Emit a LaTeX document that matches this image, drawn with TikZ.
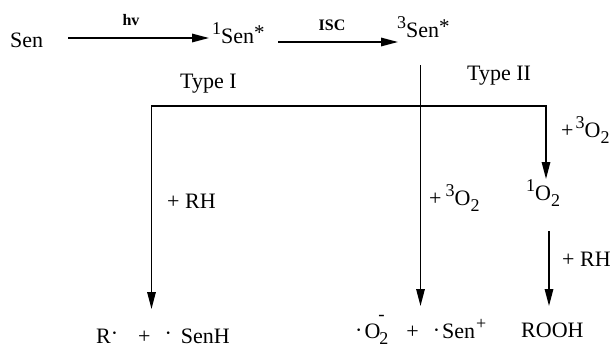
\documentclass[tikz,border=0pt]{standalone}
\usepackage{fontspec}
\setmainfont{Liberation Serif}
\usetikzlibrary{arrows.meta}
\newcommand{\upx}[1]{{\fontsize{18}{18}\selectfont\raisebox{9pt}{#1}}}
\newcommand{\dnx}[1]{{\fontsize{18}{18}\selectfont\raisebox{-6pt}{#1}}}
\newcommand{\astx}{{\fontsize{21}{21}\selectfont\raisebox{4pt}{*}}}
\newcommand{\rdot}[1][3pt]{\raisebox{#1}{·}}
\newcommand{\minx}{{\fontsize{19}{19}\selectfont\raisebox{18pt}{-}}}
\begin{document}
\begin{tikzpicture}[x=1pt,y=-1pt,
  txt/.style={inner sep=0pt, font=\fontsize{22}{24}\selectfont, anchor=base west},
  lbl/.style={inner sep=0pt, font=\fontsize{16}{18}\selectfont\bfseries, anchor=base},
  ln/.style={line width=1.5pt, line join=miter},
  arr/.style={ln, -{Triangle[length=17pt,width=8.5pt]}}]
\useasboundingbox (0,0) rectangle (615,348);
% text nodes
\node[txt] (sen) at (10,47) {Sen};
\node[txt] (s1) at (212,43) {\upx{1}Sen\astx};
\node[txt] (s3) at (397,37) {\upx{3}Sen\astx};
\node[lbl] (hv) at (131,25) {hv};
\node[lbl] (isc) at (332,30) {ISC};
\node[txt] (typeI) at (180,88) {Type I};
\node[txt] (typeII) at (467,80) {Type II};
\node[txt] (rh1) at (167,208) {+ RH};
\node[txt] (ox1) at (561,137) {+\kern2pt\upx{3}O\dnx{2}};
\node[txt] (o21) at (526,200) {\upx{1}O\dnx{2}};
\node[txt] (ox2) at (429,205) {+\kern4pt\upx{3}O\dnx{2}};
\node[txt] (rh2) at (562,266) {+ RH};
\node[txt] (p1) at (96,343) {R\rdot\kern20pt+\kern14pt\rdot\kern9pt SenH};
\node[txt] (p2) at (355,338) {\rdot[1pt]\kern2pt O\kern-2pt\rlap{\minx}\kern1pt\dnx{2}\kern18pt+\kern14pt\rdot[1pt]\kern2pt Sen\kern1pt\upx{+}};
\node[txt] (rooh) at (521,337) {ROOH};
% connector points
\coordinate (hvA) at (68,38);   \coordinate (hvB) at (209,38);
\coordinate (iscA) at (278,42); \coordinate (iscB) at (398,42);
\coordinate (tA) at (420.5,65); \coordinate (tM) at (420.5,106); \coordinate (tB) at (420.5,306);
\coordinate (jL) at (151.5,106); \coordinate (lB) at (151.5,309);
\coordinate (jR) at (546,106);  \coordinate (rB) at (546,179);
\coordinate (qA) at (549,231);  \coordinate (qB) at (549,306);
% connectors
\draw[arr] (hvA) -- (hvB);
\draw[arr] (iscA) -- (iscB);
\draw[arr] (tA) -- (tB);
\draw[arr] (tM) -- (jL) -- (lB);
\draw[arr] (tM) -- (jR) -- (rB);
\draw[arr] (qA) -- (qB);
\end{tikzpicture}
\end{document}
